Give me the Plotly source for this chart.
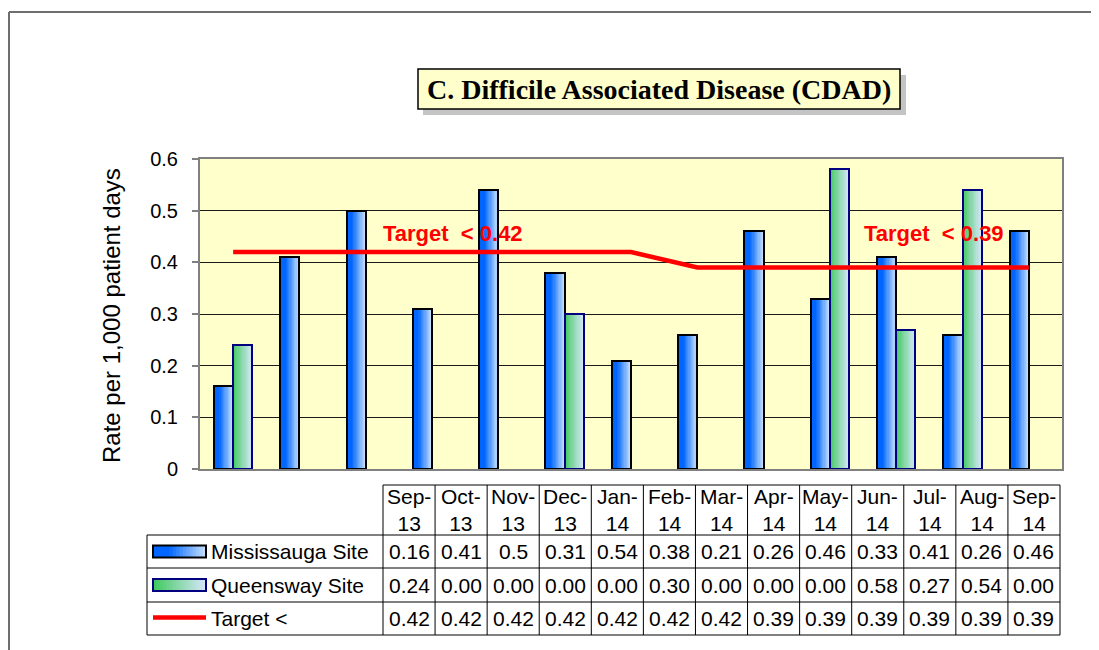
import plotly.graph_objects as go

# ---------------- data ----------------
months = ["Sep-13", "Oct-13", "Nov-13", "Dec-13", "Jan-14", "Feb-14", "Mar-14",
          "Apr-14", "May-14", "Jun-14", "Jul-14", "Aug-14", "Sep-14"]
mississauga = [0.16, 0.41, 0.5, 0.31, 0.54, 0.38, 0.21, 0.26, 0.46, 0.33, 0.41, 0.26, 0.46]
queensway = [0.24, 0.00, 0.00, 0.00, 0.00, 0.30, 0.00, 0.00, 0.00, 0.58, 0.27, 0.54, 0.00]
target = [0.42, 0.42, 0.42, 0.42, 0.42, 0.42, 0.42, 0.39, 0.39, 0.39, 0.39, 0.39, 0.39]
series_names = ["Mississauga Site", "Queensway Site", "Target <"]
title_text = "C. Difficile Associated Disease (CDAD)"
y_title = "Rate per 1,000 patient days"

# ---------------- geometry (page pixels) ----------------
PAGE_W, PAGE_H = 1099, 650
OFF = 8  # default body margin of the page
W, H = PAGE_W - OFF, PAGE_H - OFF
L, R, T, B = 200, 1062, 159, 469   # plot area in page pixels


def X(px):
    return (px - L) / (R - L)


def Y(py):
    return (B - py) / (B - T)


def lerp(c1, c2, t):
    return "rgb({},{},{})".format(*[round(a + (b - a) * t) for a, b in zip(c1, c2)])


def miss_col(t):
    return lerp((0, 102, 255), (200, 225, 255), max(0.0, (t - 0.3) / 0.7))


def queen_col(t):
    return lerp((55, 200, 85), (214, 230, 250), max(0.0, t) ** 0.9)


FONT = "Liberation Sans, Arial, sans-serif"
fig = go.Figure()

N = 16
bw = 0.29
for vals, colf, off0 in [(mississauga, miss_col, -bw), (queensway, queen_col, 0.0)]:
    for i in range(N):
        fig.add_trace(go.Bar(
            x=months, y=vals, width=bw / N + 0.004, offset=off0 + i * bw / N,
            marker=dict(color=colf((i + 0.5) / N), line=dict(width=0)),
            showlegend=False, hoverinfo="skip"))

for vals, off0, lc in [(mississauga, -bw, "#000000"), (queensway, 0.0, "#000080")]:
    fig.add_trace(go.Bar(
        x=months, y=[v if v > 0 else None for v in vals], width=bw, offset=off0,
        marker=dict(color="rgba(0,0,0,0)", line=dict(color=lc, width=2)),
        showlegend=False, hoverinfo="skip"))

fig.add_trace(go.Scatter(x=months, y=target, mode="lines",
                         line=dict(color="#FF0000", width=4.5),
                         showlegend=False, hoverinfo="skip"))

shapes = []
annotations = []

# outer chart border
shapes.append(dict(type="line", xref="paper", yref="paper", x0=X(9), x1=X(1099), y0=Y(12), y1=Y(12),
                   line=dict(color="#6e6e6e", width=2)))
shapes.append(dict(type="line", xref="paper", yref="paper", x0=X(9), x1=X(9), y0=Y(12), y1=Y(650),
                   line=dict(color="#6e6e6e", width=2)))

# title box with shadow
shapes.append(dict(type="rect", xref="paper", yref="paper", x0=X(423), x1=X(906), y0=Y(75), y1=Y(115),
                   fillcolor="#C4C4C4", line=dict(width=0), layer="above"))
shapes.append(dict(type="rect", xref="paper", yref="paper", x0=X(418), x1=X(900), y0=Y(69), y1=Y(109),
                   fillcolor="#FFFFCC", line=dict(color="#000000", width=1.5), layer="above"))
annotations.append(dict(text="<b>%s</b>" % title_text, xref="paper", yref="paper",
                        x=X(659), y=Y(89), xanchor="center", yanchor="middle", showarrow=False,
                        font=dict(family="Liberation Serif, Times New Roman, serif", size=28, color="#000000")))

# y-axis title
annotations.append(dict(text=y_title, xref="paper", yref="paper", x=X(111), y=Y(316),
                        xanchor="center", yanchor="middle", textangle=-90, showarrow=False,
                        font=dict(family=FONT, size=24, color="#000000")))

# target labels
for val, cx in [(target[0], 452.5), (target[-1], 934)]:
    annotations.append(dict(text="<b>Target\u00a0\u00a0< %.2f</b>" % val, xref="paper", yref="paper",
                            x=X(cx), y=Y(233), xanchor="center", yanchor="middle", showarrow=False,
                            font=dict(family=FONT, size=22, color="#FF0000")))

# ---------------- data table ----------------
tx0, tx1 = 383, 1060
left_x = 147
cw = (tx1 - tx0) / len(months)
y_head, y_r = 485, [535, 568, 602, 635]
lc = dict(color="#000000", width=1)
shapes.append(dict(type="line", xref="paper", yref="paper", x0=X(tx0), x1=X(tx1), y0=Y(y_head), y1=Y(y_head), line=lc))
for yy in y_r:
    shapes.append(dict(type="line", xref="paper", yref="paper", x0=X(left_x), x1=X(tx1), y0=Y(yy), y1=Y(yy), line=lc))
shapes.append(dict(type="line", xref="paper", yref="paper", x0=X(left_x), x1=X(left_x), y0=Y(y_r[0]), y1=Y(y_r[-1]), line=lc))
for i in range(len(months) + 1):
    xx = tx0 + i * cw
    shapes.append(dict(type="line", xref="paper", yref="paper", x0=X(xx), x1=X(xx), y0=Y(y_head), y1=Y(y_r[-1]), line=lc))

TF = dict(family=FONT, size=21, color="#000000")
for i, m in enumerate(months):
    cx = tx0 + (i + 0.5) * cw
    a, b = m.split("-")
    annotations.append(dict(text="%s-<br>%s" % (a, b), xref="paper", yref="paper", x=X(cx), y=Y(510),
                            xanchor="center", yanchor="middle", showarrow=False, font=TF))
    row_texts = ["%g" % mississauga[i], "%.2f" % queensway[i], "%.2f" % target[i]]
    for r, txt in enumerate(row_texts):
        cy = (y_r[r] + y_r[r + 1]) / 2
        annotations.append(dict(text=txt, xref="paper", yref="paper", x=X(cx), y=Y(cy),
                                xanchor="center", yanchor="middle", showarrow=False, font=TF))

# legend keys + names
for r, name in enumerate(series_names):
    cy = (y_r[r] + y_r[r + 1]) / 2
    annotations.append(dict(text=name, xref="paper", yref="paper", x=X(209), y=Y(cy),
                            xanchor="left", yanchor="middle", showarrow=False, font=TF))
    if r < 2:
        colf = miss_col if r == 0 else queen_col
        k0, k1 = 153, 206
        for i in range(N):
            shapes.append(dict(type="rect", xref="paper", yref="paper",
                               x0=X(k0 + i * (k1 - k0) / N), x1=X(k0 + (i + 1) * (k1 - k0) / N + 1.0),
                               y0=Y(cy - 6), y1=Y(cy + 6), fillcolor=colf((i + 0.5) / N),
                               line=dict(width=0)))
        shapes.append(dict(type="rect", xref="paper", yref="paper", x0=X(k0), x1=X(k1),
                           y0=Y(cy - 6), y1=Y(cy + 6), fillcolor="rgba(0,0,0,0)",
                           line=dict(color="#000000" if r == 0 else "#000080", width=2)))
    else:
        shapes.append(dict(type="line", xref="paper", yref="paper", x0=X(153), x1=X(206),
                           y0=Y(cy - 1), y1=Y(cy - 1), line=dict(color="#FF0000", width=4.5)))

fig.update_layout(
    width=W, height=H, autosize=False,
    margin=dict(l=L - OFF, r=PAGE_W - R, t=T - OFF, b=PAGE_H - B, pad=0),
    paper_bgcolor="#FFFFFF", plot_bgcolor="#FFFFCC",
    barmode="overlay", bargap=0,
    showlegend=False,
    shapes=shapes, annotations=annotations,
    xaxis=dict(type="category", range=[-0.5, len(months) - 0.5], showticklabels=False, ticks="",
               showgrid=False, zeroline=False, showline=True, linecolor="#808080", linewidth=2, mirror=True),
    yaxis=dict(range=[0, 0.6], dtick=0.1, tick0=0, showgrid=True, gridcolor="#1a1a1a", gridwidth=1,
               zeroline=False, showline=True, linecolor="#808080", linewidth=2, mirror=True,
               ticks="outside", ticklen=6, tickcolor="#808080", tickwidth=1.5, ticklabelstandoff=10,
               tickfont=dict(family=FONT, size=20, color="#000000")),
)

fig.write_html("out.html")
